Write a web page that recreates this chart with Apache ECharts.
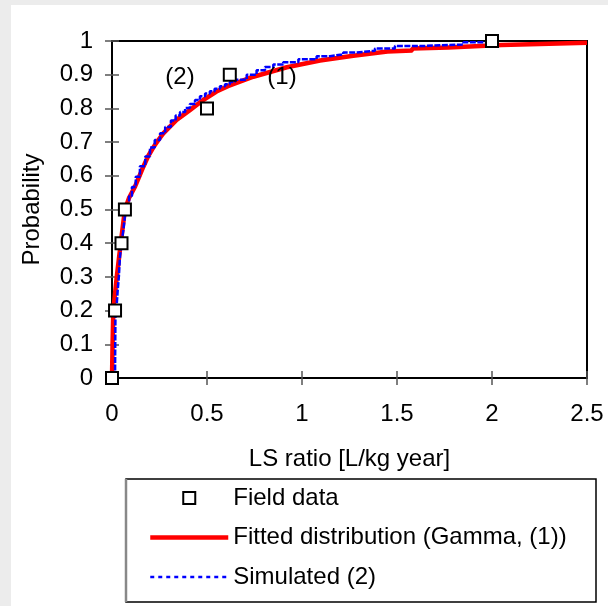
<!DOCTYPE html>
<html>
<head>
<meta charset="utf-8">
<script src="https://cdn.jsdelivr.net/npm/echarts@6/dist/echarts.min.js"></script>
<style>
  html, body { margin: 0; padding: 0; background: #ececec; }
  #chart { width: 608px; height: 606px; }
</style>
</head>
<body>
<div id="chart"></div>
<script>
// Observed field samples: LS ratio vs cumulative probability
const fieldX = [0, 0.016, 0.05, 0.068, 0.5, 0.62, 2.0];
const fieldY = [0, 0.2, 0.4, 0.5, 0.8, 0.9, 1.0];

// Fitted Gamma CDF, curve (1)
const fittedX = [0, 0.003, 0.007, 0.025, 0.046, 0.068, 0.09, 0.121, 0.165, 0.19, 0.217, 0.245, 0.27, 0.34, 0.41, 0.48, 0.55, 0.61,
  0.744, 0.92, 1.095, 1.27, 1.45, 1.58, 1.58, 1.77, 1.77, 2.05, 2.05, 2.5];
const fittedY = [0, 0.1, 0.2, 0.3, 0.4, 0.5, 0.535, 0.568, 0.627, 0.658, 0.684, 0.707, 0.726, 0.766, 0.795, 0.825, 0.85, 0.866,
  0.894, 0.922, 0.942, 0.956, 0.969, 0.972, 0.978, 0.981, 0.985, 0.988, 0.993, 0.995];

// Simulated empirical CDF, curve (2)
const simX = [0.016, 0.017, 0.018, 0.025, 0.03, 0.036, 0.042, 0.05, 0.06, 0.068, 0.075, 0.09, 0.105, 0.125, 0.147,
  0.175, 0.2, 0.225, 0.253, 0.28, 0.31, 0.335, 0.358, 0.385, 0.41, 0.437, 0.463, 0.49, 0.515, 0.54, 0.568, 0.595,
  0.62, 0.647, 0.709, 0.761, 0.805, 0.849, 0.901, 0.981, 1.077, 1.147, 1.217, 1.288, 1.384, 1.489, 1.63, 1.85, 2.0];
const simY = [0, 0.1, 0.18, 0.22, 0.26, 0.3, 0.36, 0.4, 0.44, 0.48, 0.5, 0.54, 0.567, 0.597, 0.628,
  0.657, 0.684, 0.706, 0.726, 0.745, 0.764, 0.779, 0.789, 0.801, 0.813, 0.825, 0.836, 0.844, 0.851, 0.858, 0.866, 0.872,
  0.878, 0.885, 0.9, 0.913, 0.923, 0.93, 0.937, 0.946, 0.955, 0.96, 0.966, 0.971, 0.978, 0.985, 0.99, 0.996, 1.0];

// Axis ticks
const xTicks = [0, 0.5, 1, 1.5, 2, 2.5];
const yTicks = [0, 0.1, 0.2, 0.3, 0.4, 0.5, 0.6, 0.7, 0.8, 0.9, 1];

const zip = (xs, ys) => xs.map((x, i) => [x, ys[i]]);

const FONT = '"Liberation Sans", Arial, sans-serif';
const FS = 24;

const chart = echarts.init(document.getElementById('chart'), null, { renderer: 'canvas' });

const xBase = {
  type: 'value', gridIndex: 0, position: 'bottom',
  min: xTicks[0], max: xTicks[xTicks.length - 1], interval: xTicks[1] - xTicks[0],
  splitLine: { show: false }
};
const yBase = {
  type: 'value', gridIndex: 0, position: 'left',
  min: yTicks[0], max: yTicks[yTicks.length - 1], interval: yTicks[1] - yTicks[0],
  splitLine: { show: false }
};

chart.setOption({
  backgroundColor: '#ececec',
  animation: false,
  textStyle: { fontFamily: FONT },
  graphic: [
    { type: 'rect', z: -10, shape: { x: 11, y: 5, width: 597, height: 601 }, style: { fill: '#ffffff' } },
    { type: 'rect', z: 1, shape: { x: 126, y: 479, width: 470, height: 123 },
      style: { fill: '#ffffff', stroke: '#000000', lineWidth: 1.5 } },
    { type: 'line', z: 2, shape: { x1: 126, y1: 479, x2: 126, y2: 602 },
      style: { stroke: '#888888', lineWidth: 2.5 } },
    { type: 'text', z: 5, x: 180, y: 77,
      style: { text: '(2)', font: FS + 'px ' + FONT, fill: '#000', align: 'center', verticalAlign: 'middle' } },
    { type: 'text', z: 5, x: 282, y: 77,
      style: { text: '(1)', font: FS + 'px ' + FONT, fill: '#000', align: 'center', verticalAlign: 'middle' } }
  ],
  grid: {
    left: 112, right: 21, top: 41, bottom: 228,
    show: true, borderColor: '#000', borderWidth: 2, backgroundColor: '#fff'
  },
  xAxis: [
    Object.assign({}, xBase, {
      name: 'LS ratio [L/kg year]', nameLocation: 'middle', nameGap: 69,
      nameTextStyle: { fontSize: FS, color: '#000', fontFamily: FONT },
      axisLine: { show: true, onZero: false, lineStyle: { color: '#000', width: 2 } },
      axisTick: { show: true, length: 7, lineStyle: { color: '#555', width: 1.5 } },
      axisLabel: { fontSize: FS, color: '#000', margin: 24, fontFamily: FONT }
    }),
    Object.assign({}, xBase, {
      axisLine: { show: false },
      axisTick: { show: true, inside: true, length: 7, lineStyle: { color: '#555', width: 1.5 } },
      axisLabel: { show: false }
    })
  ],
  yAxis: [
    Object.assign({}, yBase, {
      name: 'Probability', nameLocation: 'middle', nameGap: 68,
      nameTextStyle: { fontSize: FS, color: '#000', fontFamily: FONT },
      axisLine: { show: true, onZero: false, lineStyle: { color: '#000', width: 2 } },
      axisTick: { show: true, length: 7, lineStyle: { color: '#555', width: 1.5 } },
      axisLabel: { fontSize: FS, color: '#000', margin: 19, fontFamily: FONT }
    }),
    Object.assign({}, yBase, {
      axisLine: { show: false },
      axisTick: { show: true, inside: true, length: 7, lineStyle: { color: '#555', width: 1.5 } },
      axisLabel: { show: false }
    })
  ],
  legend: {
    orient: 'vertical', left: 148, top: 486,
    itemWidth: 78, itemHeight: 12, itemGap: 15.5,
    padding: 0,
    selectedMode: false,
    symbolKeepAspect: true,
    textStyle: { fontSize: FS, color: '#000', fontFamily: FONT, lineHeight: 24 },
    data: [
      { name: 'Field data', icon: 'path://M0,0L10,0L10,10L0,10Z',
        itemStyle: { color: '#ffffff', borderColor: '#000000', borderWidth: 2 } },
      { name: 'Fitted distribution (Gamma, (1))',
        itemStyle: { opacity: 0 }, lineStyle: { width: 4.5 } },
      { name: 'Simulated (2)',
        itemStyle: { opacity: 0 }, lineStyle: { width: 2.5, type: [4, 4] } }
    ]
  },
  series: [
    {
      name: 'Fitted distribution (Gamma, (1))', type: 'line',
      data: zip(fittedX, fittedY), symbol: 'none', z: 2,
      lineStyle: { color: '#ff0000', width: 4.5 }, itemStyle: { color: '#ff0000' }
    },
    {
      name: 'Simulated (2)', type: 'line', step: 'end',
      data: zip(simX, simY), symbol: 'none', z: 3,
      lineStyle: { color: '#0000ff', width: 2.5, type: [6, 1.5] }, itemStyle: { color: '#0000ff' }
    },
    {
      name: 'Field data', type: 'scatter',
      data: zip(fieldX, fieldY), symbol: 'rect', symbolSize: 12, z: 4, clip: false,
      itemStyle: { color: '#ffffff', borderColor: '#000000', borderWidth: 2, opacity: 1 }
    }
  ]
});
</script>
</body>
</html>
